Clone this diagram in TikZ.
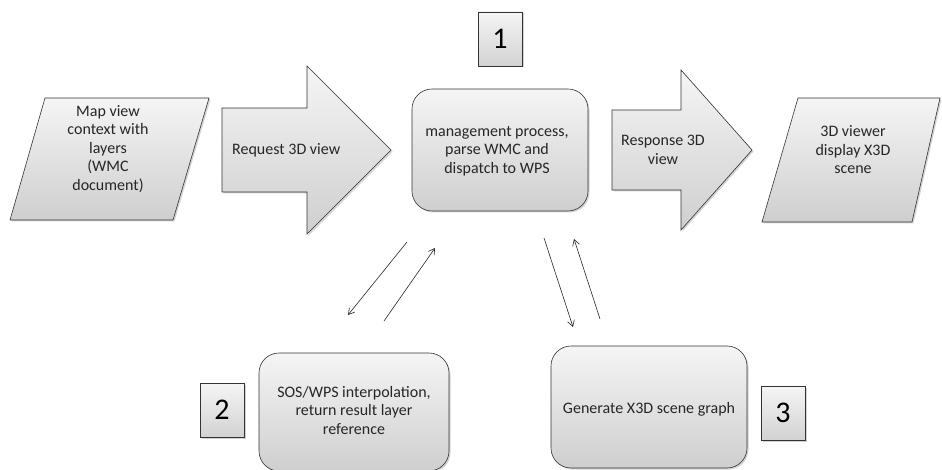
\documentclass[tikz,border=0pt]{standalone}
\usepackage{fontspec}
\setmainfont{Carlito}
\usetikzlibrary{shadows,arrows.meta}
\begin{document}
\begin{tikzpicture}[x=1pt,y=-1pt,
  shapefill/.style={draw=black!80, line width=0.6pt, top color=gray!8, bottom color=gray!38,
     drop shadow={shadow xshift=1.5pt, shadow yshift=-1.5pt, opacity=0.35}},
  txt/.style={align=center, font=\fontsize{16}{18.5}\selectfont, text=black!85, inner sep=0pt},
  numbox/.style={draw=black!80, line width=0.6pt, top color=gray!8, bottom color=gray!35,
     drop shadow={shadow xshift=1.5pt, shadow yshift=-1.5pt, opacity=0.35},
     minimum width=44pt, minimum height=54pt, inner sep=0pt, font=\fontsize{30}{30}\selectfont},
  rbox/.style={shapefill, rounded corners=20pt, inner sep=0pt},
  conn/.style={draw=black!85, line width=0.6pt, -{Straight Barb[length=6pt,width=7pt]}}]
\useasboundingbox (0,0) rectangle (942,470);
% left parallelogram
\path[shapefill] (45,98) -- (209,98) -- (173,220) -- (10,220) -- cycle;
\node[txt] (mapview) at (108,149) {Map view\\context with\\layers\\(WMC\\document)};
% request arrow
\path[shapefill] (222,108) -- (307,108) -- (307,66) -- (391,150) -- (307,234) -- (307,192) -- (222,192) -- cycle;
\node[txt, anchor=west] (req) at (232,150) {Request 3D view};
% management
\node[rbox, minimum width=176pt, minimum height=122pt] (mgmt) at (500,150) {};
\node[txt] (mgmttxt) at (497,151) {management process,\\parse WMC and\\dispatch to WPS};
\node[numbox] (n1) at (500,39) {1};
% response arrow
\path[shapefill] (612,110) -- (681,110) -- (681,70) -- (752,150) -- (681,230) -- (681,190) -- (612,190) -- cycle;
\node[txt] (resp) at (663,150) {Response 3D\\view};
% right parallelogram
\path[shapefill] (798,98) -- (940,98) -- (912,222) -- (762,222) -- cycle;
\node[txt] (viewer) at (853,150) {3D viewer\\display X3D\\scene};
% SOS box
\node[rbox, minimum width=190pt, minimum height=118pt] (sos) at (354,412) {};
\node[txt] (sostxt) at (354,410) {SOS/WPS interpolation,\\return result layer\\reference};
\node[numbox] (n2) at (222,410) {2};
% generate box
\node[rbox, minimum width=196pt, minimum height=122pt] (gen) at (649,407) {};
\node[txt] (gentxt) at (649,409) {Generate X3D scene graph};
\node[numbox] (n3) at (783,413) {3};
% connectors
\coordinate (a1s) at (407,242); \coordinate (a1e) at (348,315);
\coordinate (a2s) at (384,321); \coordinate (a2e) at (435,248);
\coordinate (a3s) at (544,238); \coordinate (a3e) at (573,327);
\coordinate (a4s) at (600,319); \coordinate (a4e) at (574,239);
\draw[conn] (a1s) -- (a1e);
\draw[conn] (a2s) -- (a2e);
\draw[conn] (a3s) -- (a3e);
\draw[conn] (a4s) -- (a4e);
\end{tikzpicture}
\end{document}
